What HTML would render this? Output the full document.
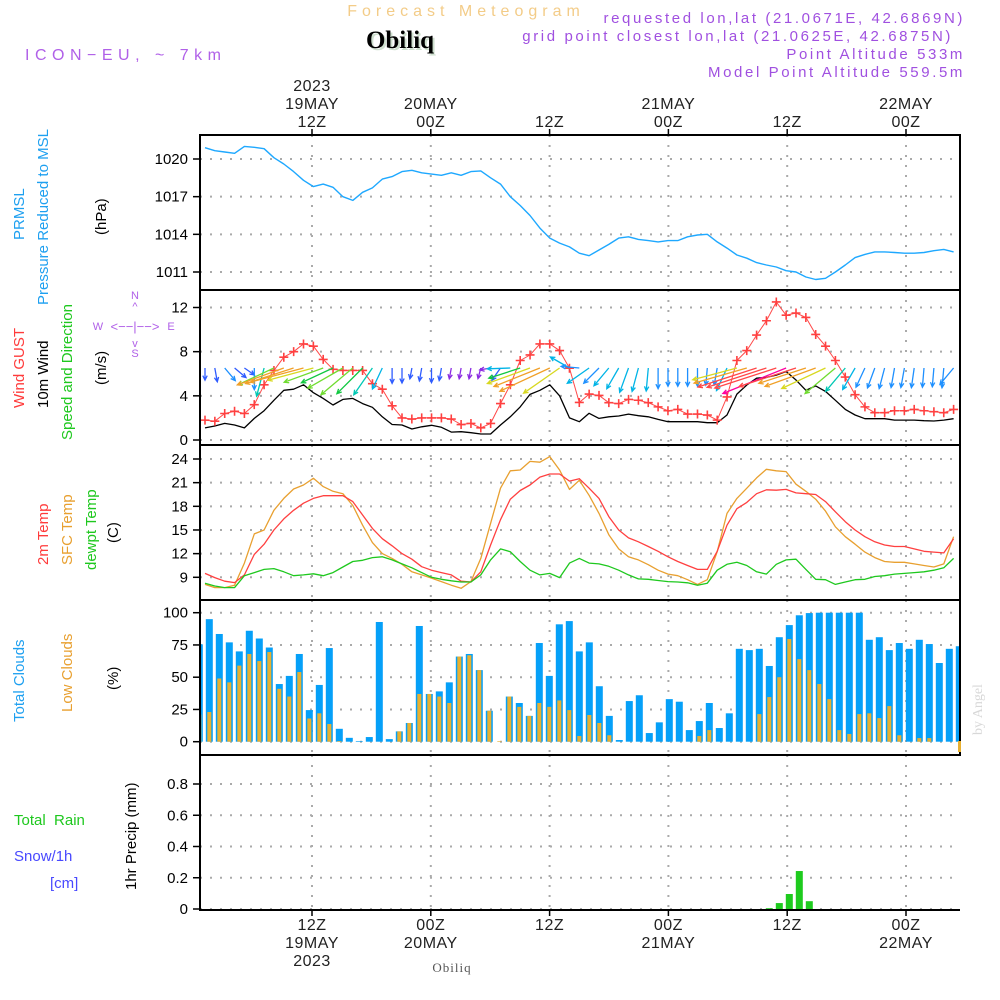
<!DOCTYPE html>
<html><head><meta charset="utf-8"><title>Forecast Meteogram Obiliq</title>
<style>
html,body{margin:0;padding:0;background:#fff;}
svg{display:block;font-family:"Liberation Sans",sans-serif;}
</style></head>
<body>
<svg id="chart" width="1000" height="1000" viewBox="0 0 1000 1000" xmlns="http://www.w3.org/2000/svg">
  <defs><clipPath id="plotclip"><rect x="201" y="136" width="758" height="625"/></clipPath></defs>
  <rect x="0" y="0" width="1000" height="1000" fill="#fff"/>
  <text x="466" y="16" text-anchor="middle" font-size="16" fill="#f3cc88" letter-spacing="5">Forecast Meteogram</text>
  <text x="402" y="50" text-anchor="middle" font-size="25" font-weight="bold" font-family="Liberation Serif, serif" fill="#cfe0cf">Obiliq</text>
  <text x="400" y="48" text-anchor="middle" font-size="25" font-weight="bold" font-family="Liberation Serif, serif" fill="#000">Obiliq</text>
  <text x="25" y="60" font-size="16" fill="#b060e8" letter-spacing="5.5">ICON−EU, ~ 7km</text>
  <g font-size="15" fill="#a050e0" text-anchor="end" letter-spacing="2.6">
    <text x="965" y="23">requested lon,lat (21.0671E, 42.6869N)</text>
    <text x="953" y="41">grid point closest lon,lat (21.0625E, 42.6875N)</text>
    <text x="965" y="59">Point Altitude 533m</text>
    <text x="965" y="77">Model Point Altitude 559.5m</text>
  </g>
  <g id="axes"></g>
  <g id="marks" clip-path="url(#plotclip)"></g>
  <g id="marks2"></g>
  <g font-size="15">
    <text transform="translate(24,240) rotate(-90)" fill="#1ea0f0">PRMSL</text>
    <text transform="translate(48,305) rotate(-90)" fill="#1ea0f0">Pressure Reduced to MSL</text>
    <text transform="translate(106,235) rotate(-90)" fill="#000">(hPa)</text>
    <text transform="translate(24,408) rotate(-90)" fill="#ff3b3b">Wind GUST</text>
    <text transform="translate(48,408) rotate(-90)" fill="#000">10m Wind</text>
    <text transform="translate(72,440) rotate(-90)" fill="#1ec81e">Speed and Direction</text>
    <text transform="translate(106,385) rotate(-90)" fill="#000">(m/s)</text>
    <text transform="translate(48,565) rotate(-90)" fill="#ff3b3b">2m Temp</text>
    <text transform="translate(72,565) rotate(-90)" fill="#e8a030">SFC Temp</text>
    <text transform="translate(96,570) rotate(-90)" fill="#1ec81e">dewpt Temp</text>
    <text transform="translate(118,543) rotate(-90)" fill="#000">(C)</text>
    <text transform="translate(24,722) rotate(-90)" fill="#1ea0f0">Total Clouds</text>
    <text transform="translate(72,712) rotate(-90)" fill="#e8a030">Low Clouds</text>
    <text transform="translate(118,690) rotate(-90)" fill="#000">(%)</text>
    <text x="14" y="825" fill="#1ec81e" xml:space="preserve">Total  Rain</text>
    <text x="14" y="861" fill="#4848ff">Snow/1h</text>
    <text x="50" y="888" fill="#4848ff">[cm]</text>
    <text transform="translate(136,890) rotate(-90)" fill="#000">1hr Precip (mm)</text>
  </g>
  <g font-size="11" fill="#b060e8" text-anchor="middle">
    <text x="135" y="299">N</text>
    <text x="135" y="310">^</text>
    <text x="135" y="331" font-size="13">&lt;−−|−−&gt;</text>
    <text x="98" y="330">W</text>
    <text x="171" y="330">E</text>
    <text x="135" y="347">v</text>
    <text x="135" y="357">S</text>
  </g>
  <text transform="translate(982,735) rotate(-90)" font-size="14" font-family="Liberation Serif, serif" fill="#d8d8d8">by Angel</text>
  <text x="452" y="972" text-anchor="middle" font-size="13" font-family="Liberation Serif, serif" fill="#555" letter-spacing="1">Obiliq</text>
</svg>
<script>
// ---- data ----
var pressure = [1020.9,1020.66,1020.56,1020.45,1021.0,1020.93,1020.82,1020.1,1019.6,1019.0,1018.3,1017.8,1018.0,1017.75,1017.0,1016.7,1017.35,1017.7,1018.4,1018.6,1019.0,1019.1,1018.9,1018.8,1018.7,1018.9,1018.7,1019.0,1019.05,1018.5,1018.0,1017.0,1016.3,1015.5,1014.5,1013.7,1013.3,1013.0,1012.5,1012.3,1012.75,1013.2,1013.7,1013.8,1013.6,1013.5,1013.4,1013.5,1013.5,1013.8,1013.95,1014.0,1013.4,1012.9,1012.35,1012.1,1011.75,1011.56,1011.4,1011.1,1011.0,1010.6,1010.4,1010.5,1011.0,1011.56,1012.15,1012.4,1012.6,1012.6,1012.55,1012.5,1012.5,1012.55,1012.7,1012.8,1012.6];
var gust = [1.8,1.7,2.4,2.6,2.4,3.2,5.0,6.3,7.5,8.0,8.7,8.5,7.3,6.4,6.3,6.3,6.3,5.1,4.6,3.1,2.0,1.9,2.0,2.0,2.0,1.9,1.4,1.5,1.1,1.5,3.3,5.0,7.2,7.7,8.7,8.7,8.1,6.5,3.4,4.16,4.04,3.38,3.3,3.68,3.6,3.38,3.0,2.65,2.77,2.35,2.35,2.26,1.8,3.9,7.2,8.1,9.5,10.8,12.5,11.3,11.5,11.1,9.56,8.5,7.2,5.7,4.1,3.0,2.47,2.47,2.65,2.65,2.77,2.65,2.56,2.47,2.77];
var wind10m = [1.1,1.27,1.5,1.36,1.1,1.96,2.65,3.6,4.5,4.6,5.0,4.28,3.77,3.17,3.68,3.77,3.3,2.96,2.1,1.4,1.36,1.0,1.2,1.33,1.15,0.72,0.75,0.66,0.54,0.54,1.36,2.1,3.0,4.13,4.5,5.0,4.0,2.0,1.66,2.42,1.96,2.1,2.17,2.35,2.2,2.1,1.87,1.66,1.66,1.66,1.66,1.57,1.57,2.26,4.16,4.98,5.6,5.67,5.88,6.2,5.43,4.5,4.9,4.4,3.6,2.77,2.26,1.93,1.93,1.93,1.8,1.8,1.8,1.75,1.72,1.8,1.93];
var windDir = [0,350,320,310,305,0,15,65,70,72,75,75,70,65,60,50,45,35,25,0,0,10,10,0,10,10,10,10,15,80,35,88,72,70,68,65,55,120,95,55,45,40,30,20,15,5,0,0,0,0,0,5,10,25,75,74,72,72,72,68,72,72,70,65,50,40,30,25,20,15,10,10,8,5,5,5,40];
var temp2m = [9.5,8.96,8.5,8.33,9.3,11.9,13.2,15.0,16.4,17.5,18.4,19.0,19.35,19.35,19.35,18.6,16.9,15.2,13.9,13.0,12.0,11.3,10.35,9.9,9.6,9.3,8.5,8.4,9.7,13.1,16.3,18.9,20.0,20.7,21.7,22.1,22.1,21.2,21.5,20.3,19.0,16.7,15.0,14.0,13.5,12.9,12.3,11.6,11.0,10.5,10.0,10.0,12.3,15.6,17.7,18.5,19.6,20.1,20.05,20.15,19.7,19.6,19.5,18.6,17.3,16.05,15.0,14.15,13.5,13.1,12.9,12.9,12.6,12.3,12.2,12.1,13.9];
var tempSfc = [8.1,7.7,7.7,8.0,10.8,14.5,15.0,17.5,19.0,20.2,20.7,21.55,20.5,19.9,19.6,18.1,15.6,13.4,12.0,11.4,10.65,9.7,9.3,8.9,8.45,8.0,7.6,8.45,11.4,15.85,20.3,22.5,22.6,23.7,23.6,24.3,22.6,20.15,21.3,19.4,17.1,14.4,12.6,11.6,11.2,10.6,9.9,9.4,9.2,8.7,8.1,8.7,12.25,17.1,19.0,20.3,21.6,22.7,22.5,22.4,20.8,19.9,18.9,17.4,15.4,14.15,13.2,12.2,11.5,11.0,10.9,10.9,10.7,10.5,10.3,10.7,14.15];
var dewpt = [8.25,7.9,7.7,7.7,9.2,9.6,10.0,10.1,9.7,9.2,9.3,9.45,9.2,9.6,10.3,11.0,11.15,11.5,11.6,11.2,10.7,10.2,9.6,9.0,8.75,8.55,8.4,8.4,9.3,11.2,12.6,12.25,11.0,9.9,9.3,9.5,8.96,10.8,11.4,10.8,10.7,10.4,9.9,9.3,8.8,8.75,8.6,8.45,8.4,8.3,8.0,8.25,9.9,10.65,10.9,10.5,9.7,9.4,10.65,11.2,11.3,10.0,8.75,8.7,8.1,8.4,8.7,8.75,9.1,9.2,9.4,9.5,9.6,9.7,9.9,10.2,11.4];
var totalClouds = [75.5,95,83.5,77,70,86,80,73,44.7,51,68,24.5,44,72.6,10,3,0.5,3.6,92.8,2,8,14.5,89.7,37,39,46,66,68,55.5,24,0,35,30,20,76.5,51,91,93.5,70,77,43,20,1.3,31.5,36,6.7,15,33,31,9,16,30,10.6,22,72,71,72,58.7,81,90.4,98,99.7,100,100,100,100,100,79,81,71,76.5,72,79,75.7,61,72,74];
var lowClouds = [21,23,49,46,59,68,62.5,69.5,41,35,54,18,22,13.7,0.5,0,0,0,0,0,8,14.5,37,37,35,30,66,67,55.5,24,0.5,35,27,20,30,27,32,24.5,4.4,20.7,14.5,5,0,0,0,0,0,0,0,0,4.4,9,0,0,0,0,21.4,34.6,50,79.6,64,55.5,44.7,33,9,6,21.4,22,18.3,27.6,5,0,2.8,2.8,0,0,0];
var precip = [0,0,0,0,0,0,0,0,0,0,0,0,0,0,0,0,0,0,0,0,0,0,0,0,0,0,0,0,0,0,0,0,0,0,0,0,0,0,0,0,0,0,0,0,0,0,0,0,0,0,0,0,0,0,0,0,0,0.005,0.038,0.096,0.243,0.05,0,0,0,0,0,0,0,0,0,0,0,0,0,0,0];
var pressureTicks = [1011,1014,1017,1020];
var windTicks = [0,4,8,12];
var tempTicks = [9,12,15,18,21,24];
var cloudTicks = [0,25,50,75,100];
var precipTicks = [0,0.2,0.4,0.6,0.8];
var timeTickHours = [12,24,36,48,60,72];
var timeTickTop = [["2023","19MAY","12Z"],["","20MAY","00Z"],["","","12Z"],["","21MAY","00Z"],["","","12Z"],["","22MAY","00Z"]];
var timeTickBottom = [["12Z","19MAY","2023"],["00Z","20MAY",""],["12Z","",""],["00Z","21MAY",""],["12Z","",""],["00Z","22MAY",""]];

// ---- scales ----
var NS = "http://www.w3.org/2000/svg";
var X0 = 200, X1 = 960;
function xLine(k){ return 205 + k*9.85; }
function xBar(i){ return 199.3 + i*10; }
function xHour(h){ return 312 + (h-12)*9.9; }
function lin(v0,y0,v1,y1){ return function(v){ return y0 + (v-v0)*(y1-y0)/(v1-v0); }; }
var yP = lin(1020,159,1011,272);
var yW = lin(0,440,12,307.5);
var yT = lin(24,459,9,577.3);
var yC = lin(0,741.7,100,612.7);
var yR = lin(0,909,0.8,784);
var panels = [
  {name:"pressure",top:135,bot:290,ticks:pressureTicks,y:yP,fmt:function(v){return String(v);}},
  {name:"wind",top:290,bot:445,ticks:windTicks,y:yW,fmt:function(v){return String(v);}},
  {name:"temperature",top:445,bot:600,ticks:tempTicks,y:yT,fmt:function(v){return String(v);}},
  {name:"clouds",top:600,bot:755,ticks:cloudTicks,y:yC,fmt:function(v){return String(v);}},
  {name:"precip",top:755,bot:910,ticks:precipTicks,y:yR,fmt:function(v){return v===0?"0":v.toFixed(1);}}
];
function mk(tag, attrs, parent){
  var e = document.createElementNS(NS, tag);
  for (var a in attrs) e.setAttribute(a, attrs[a]);
  parent.appendChild(e);
  return e;
}
var axes = document.getElementById("axes");
var marks = document.getElementById("marks");
var marks2 = document.getElementById("marks2");

// ---- axes, grid ----
panels.forEach(function(p){
  p.ticks.forEach(function(v){
    var y = p.y(v);
    var g = mk("line",{x1:X0,x2:X1,y1:y,y2:y,stroke:"#aaa","stroke-width":2,"stroke-dasharray":"2,8"},axes);
    
    
    var t = mk("line",{x1:X0-7,x2:X0,y1:y,y2:y,stroke:"#000","stroke-width":1.5},axes);
    
    
    var lb = mk("text",{x:X0-12,y:y+5,"text-anchor":"end","font-size":15,fill:"#000"},axes);
    lb.textContent = p.fmt(v);
    
    
  });
  timeTickHours.forEach(function(h){
    var x = xHour(h);
    var g = mk("line",{x1:x,x2:x,y1:p.top,y2:p.bot,stroke:"#aaa","stroke-width":2,"stroke-dasharray":"2,8"},axes);
    
    
  });
  var last = p.name === "precip";
  var fr = mk("path",{d: last ? ("M"+X0+","+p.top+" L"+X0+","+p.bot+" L"+X1+","+p.bot)
      : ("M"+X0+","+p.top+" L"+X1+","+p.top+" L"+X1+","+p.bot+" L"+X0+","+p.bot+" Z"),
      fill:"none",stroke:"#000","stroke-width":2},axes);
  
  
});
var topLine = mk("line",{x1:X0,x2:X1,y1:755,y2:755,stroke:"#000","stroke-width":2},axes);


timeTickHours.forEach(function(h, j){
  var x = xHour(h);
  var tt = mk("line",{x1:x,x2:x,y1:129,y2:135,stroke:"#000","stroke-width":1.5},axes);
  
  
  var bt = mk("line",{x1:x,x2:x,y1:910,y2:916,stroke:"#000","stroke-width":1.5},axes);
  
  
  timeTickTop[j].forEach(function(s, r){
    if (!s) return;
    var t = mk("text",{x:x,y:91+r*18,"text-anchor":"middle","font-size":16,fill:"#222","letter-spacing":0.5},axes);
    t.textContent = s;
    
    
  });
  timeTickBottom[j].forEach(function(s, r){
    if (!s) return;
    var t = mk("text",{x:x,y:930+r*18,"text-anchor":"middle","font-size":16,fill:"#222","letter-spacing":0.5},axes);
    t.textContent = s;
    
    
  });
});

// ---- series ----
function polyline(arr, yf, color, name, w){
  var pts = arr.map(function(v,k){ return xLine(k).toFixed(1)+","+yf(v).toFixed(1); }).join(" ");
  var pl = mk("polyline",{points:pts,fill:"none",stroke:color,"stroke-width":w||1.3,"stroke-linejoin":"round"},marks);
  
  
}
polyline(pressure, yP, "#1ea8ff", "pressure-line", 1.4);

// cloud bars
totalClouds.forEach(function(v,i){
  var x = xBar(i), y = yC(v);
  var r = mk("rect",{x:x-3.5,y:y,width:7,height:Math.max(0,yC(0)-y),fill:"#05a0f8"},marks);
  
  
});
lowClouds.forEach(function(v,i){
  var x = xBar(i), y = yC(v);
  var r = mk("rect",{x:x-2,y:y,width:4,height:Math.max(0,yC(0)-y),fill:"#e8b030"},marks);
  
  
});
var odd = mk("rect",{x:958,y:741,width:3,height:11,fill:"#e8b030"},marks2);



// precip bars
precip.forEach(function(v,i){
  if (v <= 0) return;
  var x = xBar(i), y = yR(v);
  var r = mk("rect",{x:x-3.5,y:y,width:7,height:yR(0)-y,fill:"#1ecb1e"},marks2);
  
  
});

// temperatures
polyline(tempSfc, yT, "#e8a030", "sfc-temp-line", 1.3);
polyline(temp2m, yT, "#ff4040", "temp-2m-line", 1.3);
polyline(dewpt, yT, "#1ec81e", "dewpt-line", 1.3);

// wind
polyline(wind10m, yW, "#000", "wind-10m-line", 1.3);
polyline(gust, yW, "#ff4848", "gust-line", 1);
gust.forEach(function(v,k){
  var x = xLine(k), y = yW(v);
  var c = mk("path",{d:"M"+(x-4.5)+","+y+" H"+(x+4.5)+" M"+x+","+(y-4.5)+" V"+(y+4.5),stroke:"#ff4040","stroke-width":1.6},marks);
  
  
});
function windColor(s){
  if (s < 0.8) return "#8a2be2";
  if (s < 1.5) return "#2f5cff";
  if (s < 2.0) return "#1e90ff";
  if (s < 2.5) return "#00b4e6";
  if (s < 3.0) return "#00c8b4";
  if (s < 3.5) return "#10c840";
  if (s < 4.0) return "#70dc30";
  if (s < 4.5) return "#d8d820";
  if (s < 5.2) return "#f0a028";
  if (s < 6.0) return "#ff4848";
  return "#ff00a0";
}
windDir.forEach(function(d,k){
  var s = wind10m[k];
  var L = Math.max(11, s*11);
  var rad = d*Math.PI/180;
  var dx = -Math.sin(rad)*L, dy = Math.cos(rad)*L;
  var x0 = xLine(k), y0 = 368, x1 = x0+dx, y1 = y0+dy;
  var ang = Math.atan2(dy,dx), h = 5;
  var a1 = ang+Math.PI-0.45, a2 = ang+Math.PI+0.45;
  var col = windColor(s);
  var p = mk("path",{d:"M"+x0.toFixed(1)+","+y0+" L"+x1.toFixed(1)+","+y1.toFixed(1)+
    " M"+(x1+h*Math.cos(a1)).toFixed(1)+","+(y1+h*Math.sin(a1)).toFixed(1)+" L"+x1.toFixed(1)+","+y1.toFixed(1)+
    " L"+(x1+h*Math.cos(a2)).toFixed(1)+","+(y1+h*Math.sin(a2)).toFixed(1),
    fill:"none",stroke:col,"stroke-width":1.3},marks);
  
  
});
</script>
</body></html>
